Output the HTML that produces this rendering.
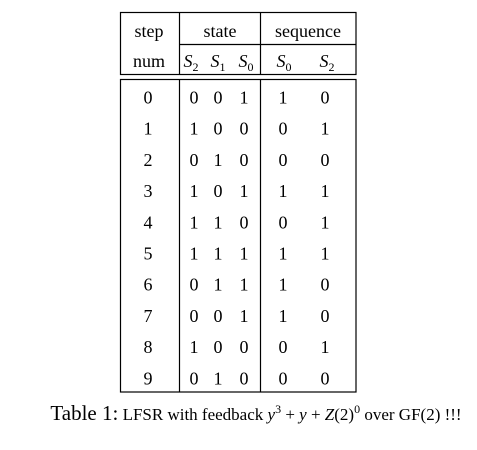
<!DOCTYPE html>
<html><head><meta charset="utf-8"><style>
body{margin:0;background:#fff;width:477px;height:445px;overflow:hidden}
svg text{font-family:"Liberation Serif",serif;fill:#000}
</style></head><body>
<svg width="477" height="445">
<g stroke="#000" stroke-width="1.2">
<rect x="120.5" y="12.5" width="235.5" height="62" fill="none"/>
<line x1="179.5" y1="12" x2="179.5" y2="75"/>
<line x1="260.5" y1="12" x2="260.5" y2="75"/>
<line x1="179" y1="44.5" x2="356" y2="44.5"/>
<rect x="120.5" y="79.5" width="235.5" height="312.5" fill="none"/>
<line x1="179.5" y1="79" x2="179.5" y2="392"/>
<line x1="260.5" y1="79" x2="260.5" y2="392"/>
</g>
<g font-size="18" text-anchor="middle">
<text x="149" y="37">step</text>
<text x="149" y="67">num</text>
<text x="220" y="37">state</text>
<text x="308" y="37">sequence</text>
<text x="191" y="67" font-style="italic">S<tspan font-size="12" font-style="normal" dy="4">2</tspan></text>
<text x="218" y="67" font-style="italic">S<tspan font-size="12" font-style="normal" dy="4">1</tspan></text>
<text x="246" y="67" font-style="italic">S<tspan font-size="12" font-style="normal" dy="4">0</tspan></text>
<text x="284" y="67" font-style="italic">S<tspan font-size="12" font-style="normal" dy="4">0</tspan></text>
<text x="327" y="67" font-style="italic">S<tspan font-size="12" font-style="normal" dy="4">2</tspan></text>
</g>
<g id="body" font-size="18" text-anchor="middle"></g>
<text x="256" y="420" text-anchor="middle" font-size="17"><tspan font-size="21">Table 1:</tspan> LFSR with feedback <tspan font-style="italic">y</tspan><tspan font-size="12" dy="-7">3</tspan><tspan dy="7"> + </tspan><tspan font-style="italic">y</tspan> + <tspan font-style="italic">Z</tspan>(2)<tspan font-size="12" dy="-7">0</tspan><tspan dy="7"> over GF(2) !!!</tspan></text>
</svg>
<script>
const steps=[0,1,2,3,4,5,6,7,8,9];
const s2=[0,1,0,1,1,1,0,0,1,0];
const s1=[0,0,1,0,1,1,1,0,0,1];
const s0=[1,0,0,1,0,1,1,1,0,0];
const seq0=[1,0,0,1,0,1,1,1,0,0];
const seq2=[0,1,0,1,1,1,0,0,1,0];
const cols=[[148,steps,'step'],[194,s2,'s2'],[218,s1,'s1'],[244,s0,'s0'],[283,seq0,'seq-s0'],[325,seq2,'seq-s2']];
const g=document.getElementById('body');
steps.forEach((st,i)=>{
  const y=103.5+i*31.2;
  cols.forEach(c=>{
    const t=document.createElementNS('http://www.w3.org/2000/svg','text');
    t.setAttribute('x',c[0]);t.setAttribute('y',y);
    t.textContent=c[1][i];
    
    
    g.appendChild(t);
  });
});
</script>
</body></html>
